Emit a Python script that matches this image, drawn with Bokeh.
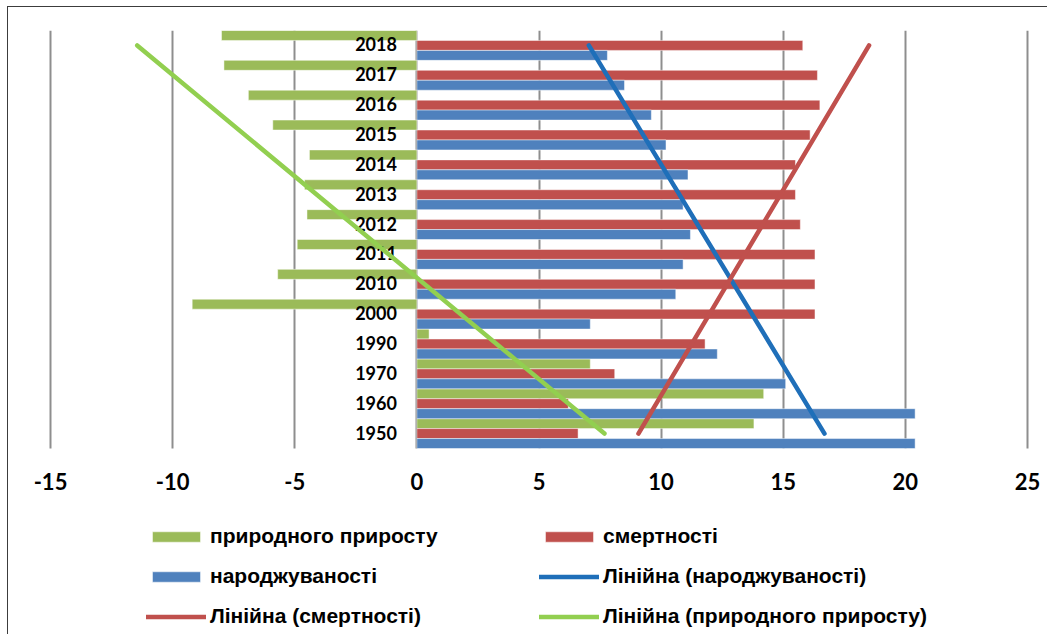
import glob
import numpy as np
from bokeh.plotting import figure
from bokeh.models import Range1d, FixedTicker, Legend, LegendItem, ColumnDataSource
from bokeh.core.properties import value
from bokeh.embed import file_html
from bokeh.resources import INLINE

# ---------------- data ----------------
years = ["1950", "1960", "1970", "1990", "2000", "2010", "2011",
         "2012", "2013", "2014", "2015", "2016", "2017", "2018"]
natural = [13.8, 14.2, 7.1, 0.5, -9.2, -5.7, -4.9, -4.5, -4.6, -4.4, -5.9, -6.9, -7.9, -8.0]
deaths = [6.6, 6.2, 8.1, 11.8, 16.3, 16.3, 16.3, 15.7, 15.5, 15.5, 16.1, 16.5, 16.4, 15.8]
births = [20.4, 20.4, 15.1, 12.3, 7.1, 10.6, 10.9, 11.2, 10.9, 11.1, 10.2, 9.6, 8.5, 7.8]
x_ticks = [-15, -10, -5, 0, 5, 10, 15, 20, 25]
x_tick_labels = ["-15", "-10", "-5", "0", "5", "10", "15", "20", "25"]
series_names = ["природного приросту", "смертності", "народжуваності"]
trend_names = ["Лінійна (народжуваності)", "Лінійна (смертності)", "Лінійна (природного приросту)"]

GREEN, RED, BLUE = "#9BBB59", "#C0504D", "#4F81BD"
T_BLUE, T_RED, T_GREEN = "#1F6FB9", "#C0504D", "#92CF50"

narrow = glob.glob("/usr/share/fonts/**/LiberationSansNarrow*", recursive=True)
LEG_FONT = "Liberation Sans Narrow" if narrow else "Liberation Sans"
LEG_SIZE = "25px" if narrow else "21px"

W, H = 1040, 628
TOP, LEFT, RIGHT = 23, 10, 0
PX_X = 976 / 40.0                     # pixels per value unit
x_start = -15 - (42 - LEFT) / PX_X    # extra room so the edge tick labels are not clipped
x_end = 25 + (21 - RIGHT) / PX_X
CAT_PX = 418 / len(years)             # pixel height of one category band
frame_h = H - TOP
y_min = len(years) - frame_h / CAT_PX  # frame extends below categories to hold the legend

p = figure(width=W, height=H, output_backend="svg", toolbar_location=None,
           x_range=Range1d(x_start, x_end), y_range=Range1d(y_min, len(years)),
           x_axis_location=None, y_axis_location=None, title=None,
           min_border_left=LEFT, min_border_right=RIGHT, min_border_top=TOP, min_border_bottom=0)
p.outline_line_color = None
p.styles = {"margin-left": "7px", "margin-top": "6px",
            "border-top": "1.5px solid #3c3c3c", "border-left": "1.5px solid #3c3c3c"}

# vertical grid lines only over the category band
p.ygrid.visible = False
p.xgrid.ticker = FixedTicker(ticks=x_ticks)
p.xgrid.grid_line_color = "#8E8E8E"
p.xgrid.grid_line_width = 2
if "cross_bounds" in p.xgrid[0].properties():
    p.xgrid.cross_bounds = (0, len(years))
else:
    p.xgrid.visible = False
    p.segment(x0=x_ticks, x1=x_ticks, y0=0, y1=len(years),
              line_color="#8E8E8E", line_width=2)

idx = np.arange(len(years))
centers = idx + 0.5
bh = 1.0 / 3.0
src = ColumnDataSource(dict(year=years, yc=centers, yg=centers + bh, yr=centers, yb=centers - bh,
                            g=natural, r=deaths, b=births))

common = dict(source=src, left=0, height=bh, line_color="white", line_width=0.8, line_alpha=0.6)
rg = p.hbar(y="yg", right="g", fill_color=GREEN, **common)
rr = p.hbar(y="yr", right="r", fill_color=RED, **common)
rb = p.hbar(y="yb", right="b", fill_color=BLUE, **common)

p.text(x=0, y="yc", text="year", source=src, x_offset=-20, y_offset=-1,
       text_align="right", text_baseline="middle", text_font=value("Lato"),
       text_font_style="bold", text_font_size="18px", text_color="black")

# value-axis tick labels
tick_src = ColumnDataSource(dict(x=x_ticks, lab=x_tick_labels))
p.text(x="x", y=0, text="lab", source=tick_src, y_offset=33,
       text_align="center", text_baseline="middle", text_font=value("Lato"),
       text_font_style="bold", text_font_size="22px", text_color="black")

xs = idx + 1
def trend(vals):
    k, c = np.polyfit(xs, vals, 1)
    return [k * xs[0] + c, k * xs[-1] + c]

yends = [centers[0], centers[-1]]
tl = dict(line_width=4.5, line_cap="round")
lb = p.line(x=trend(births), y=yends, line_color=T_BLUE, **tl)
lr = p.line(x=trend(deaths), y=yends, line_color=T_RED, **tl)
lg = p.line(x=trend(natural), y=yends, line_color=T_GREEN, **tl)

legend = Legend(items=[
    LegendItem(label=series_names[0], renderers=[rg]),
    LegendItem(label=series_names[1], renderers=[rr]),
    LegendItem(label=series_names[2], renderers=[rb]),
    LegendItem(label=trend_names[0], renderers=[lb]),
    LegendItem(label=trend_names[1], renderers=[lr]),
    LegendItem(label=trend_names[2], renderers=[lg]),
], orientation="horizontal", ncols=2, location=(96 + (42 - LEFT), 5),
    glyph_width=60, glyph_height=13, label_standoff=4, label_width=317, label_height=28,
    spacing=12, padding=0, margin=0, border_line_color=None, background_fill_alpha=0,
    label_text_font=LEG_FONT, label_text_font_style="bold", label_text_font_size=LEG_SIZE,
    label_text_color="black")
p.add_layout(legend, "center")

open("out.html", "w").write(file_html(p, INLINE))
